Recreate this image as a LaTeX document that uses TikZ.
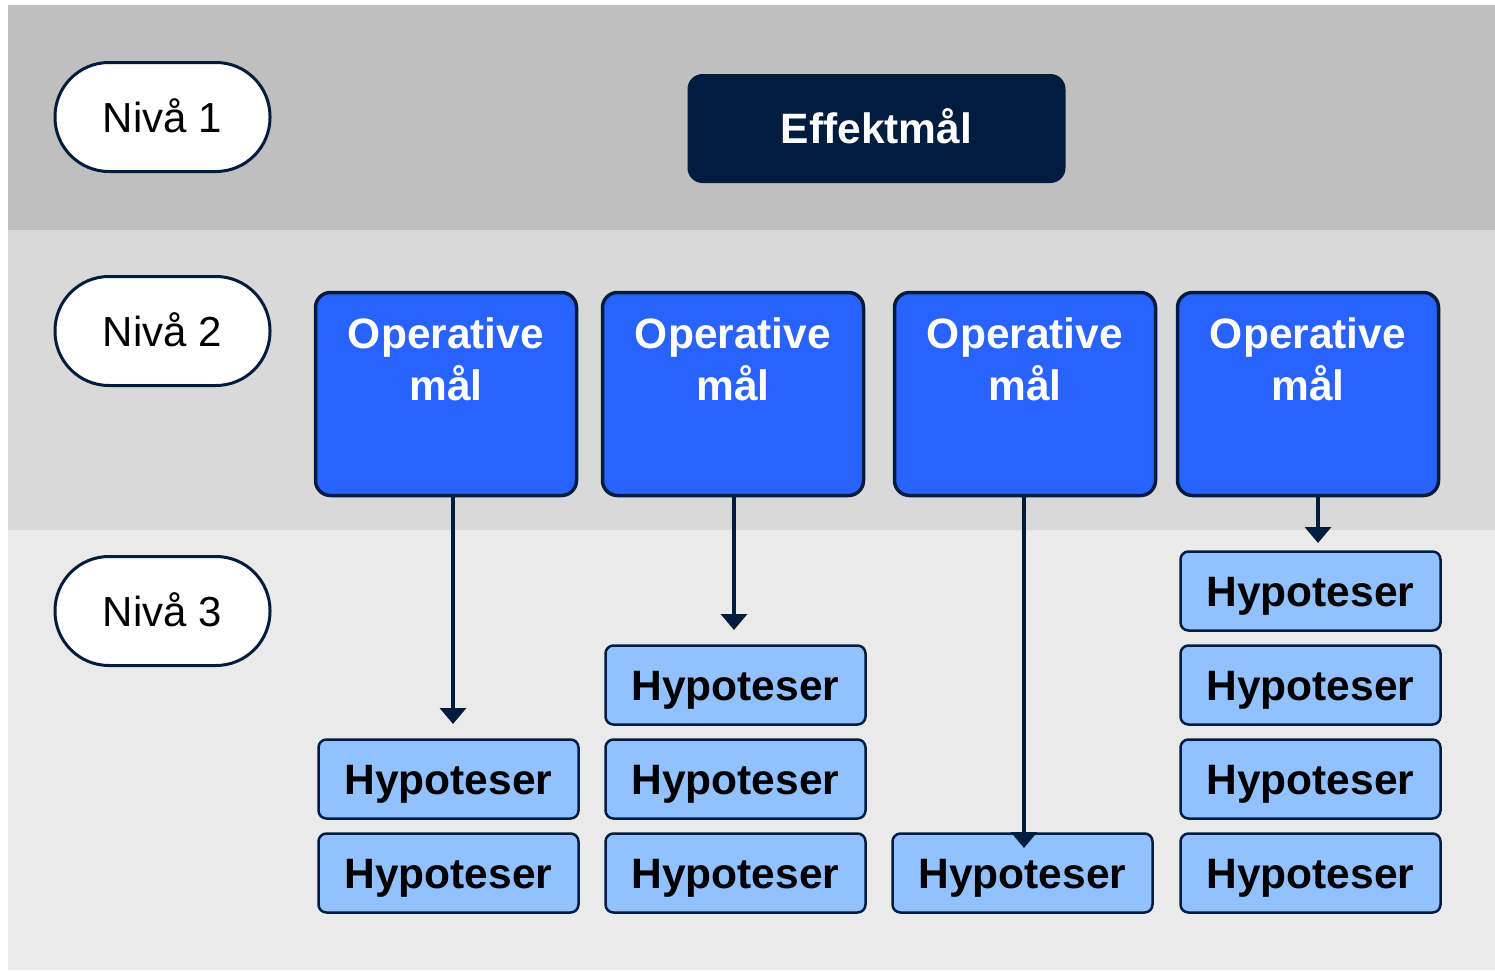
\documentclass[tikz,border=0pt]{standalone}
\usepackage{fontspec}
\setmainfont{Liberation Sans}
\usetikzlibrary{arrows.meta}
\definecolor{bandA}{HTML}{BFBFBF}
\definecolor{bandB}{HTML}{D9D9D9}
\definecolor{bandC}{HTML}{EAEAEA}
\definecolor{navy}{HTML}{001D40}
\definecolor{opblue}{HTML}{2963FF}
\definecolor{hypblue}{HTML}{92C1FF}
\tikzset{
  px/.style={x=1pt,y=-1pt},
  capc/.style={text height=30pt,text depth=0pt},
  levelbox/.style={draw=navy,line width=3pt,fill=white,rounded corners=54pt,capc,
    minimum width=215pt,minimum height=109pt,inner sep=0pt,font=\fontsize{42}{49}\selectfont},
  goalbox/.style={fill=navy,rounded corners=15pt,minimum width=378pt,minimum height=109pt,capc,
    inner sep=0pt,text=white,font=\fontsize{42.5}{49}\selectfont\bfseries},
  opbox/.style={draw=navy,line width=3.5pt,fill=opblue,rounded corners=15pt,
    minimum width=261pt,minimum height=203pt,inner sep=0pt},
  optext/.style={text=white,font=\fontsize{42.5}{52}\selectfont\bfseries,align=center,
    anchor=north,inner sep=0pt},
  hypbox/.style={draw=navy,line width=2.5pt,fill=hypblue,rounded corners=8pt,capc,
    minimum width=260pt,minimum height=79pt,inner sep=0pt,text=black,
    font=\fontsize{42.5}{49}\selectfont\bfseries},
  arr/.style={draw=navy,line width=3.5pt,-{Triangle[width=26pt,length=16pt]}},
}
\begin{document}
\begin{tikzpicture}[px]
\useasboundingbox[fill=white] (0,0) rectangle (1495,972);
% bands
\fill[bandA] (8,5) rectangle (1495,230);
\fill[bandB] (8,230) rectangle (1495,530);
\fill[bandC] (8,530) rectangle (1495,970);
% level labels
\node[levelbox] (n1) at (162.5,117) {Nivå 1};
\node[levelbox] (n2) at (162.5,331) {Nivå 2};
\node[levelbox] (n3) at (162.5,611) {Nivå 3};
% level 1
\node[goalbox] (eff) at (876.5,128.5) {Effektmål};
% level 2 boxes (text at top)
\foreach \i/\x in {1/446,2/733,3/1025,4/1308}{
  \node[opbox] (op\i) at (\x,394) {};
  \node[optext] (opt\i) at (\x,317) {Operative\\mål};
}
% hypotheses
\node[hypbox] (h11) at (448.5,779) {Hypoteser};
\node[hypbox] (h12) at (448.5,873) {Hypoteser};
\node[hypbox] (h21) at (735.5,685) {Hypoteser};
\node[hypbox] (h22) at (735.5,779) {Hypoteser};
\node[hypbox] (h23) at (735.5,873) {Hypoteser};
\node[hypbox] (h31) at (1022.5,873) {Hypoteser};
\node[hypbox] (h41) at (1310.5,591) {Hypoteser};
\node[hypbox] (h42) at (1310.5,685) {Hypoteser};
\node[hypbox] (h43) at (1310.5,779) {Hypoteser};
\node[hypbox] (h44) at (1310.5,873) {Hypoteser};
% arrow end points
\coordinate (e1) at (453,724);
\coordinate (e2) at (734,630);
\coordinate (e3) at (1024,848);
\coordinate (e4) at (1318,543);
\draw[arr] (op1.south -| e1) -- (e1);
\draw[arr] (op2.south -| e2) -- (e2);
\draw[arr] (op3.south -| e3) -- (e3);
\draw[arr] (op4.south -| e4) -- (e4);
\end{tikzpicture}
\end{document}
